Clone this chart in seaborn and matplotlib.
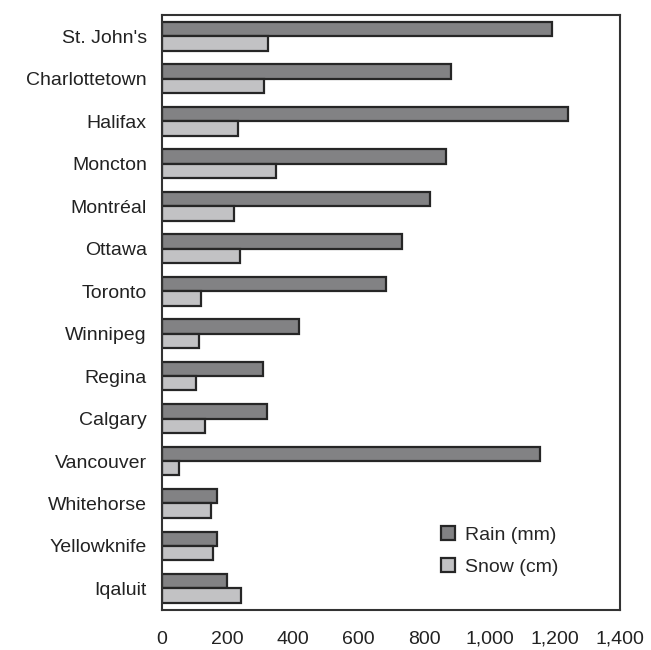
import pandas as pd
import matplotlib.pyplot as plt
import seaborn as sns

# data
cities = ["St. John's", 'Charlottetown', 'Halifax', 'Moncton', 'Montréal', 'Ottawa',
          'Toronto', 'Winnipeg', 'Regina', 'Calgary', 'Vancouver', 'Whitehorse',
          'Yellowknife', 'Iqaluit']
rain = [1192, 881, 1239, 868, 818, 734, 685, 417, 307, 319, 1154, 167, 167, 198]
snow = [325, 312, 233, 349, 221, 239, 118, 112, 105, 130, 51, 149, 155, 241]
series = ['Rain (mm)', 'Snow (cm)']
xticks = [0, 200, 400, 600, 800, 1000, 1200, 1400]

df = pd.DataFrame({'city': cities * 2,
                   'value': rain + snow,
                   'series': [series[0]] * len(cities) + [series[1]] * len(cities)})

sns.set_style('white')
plt.rcParams['font.family'] = ['Liberation Sans', 'DejaVu Sans']

fig, ax = plt.subplots(figsize=(6.51, 6.5), dpi=100)
fig.subplots_adjust(left=0.249, right=0.953, top=0.977, bottom=0.062)

sns.barplot(data=df, y='city', x='value', hue='series', hue_order=series,
            order=cities, orient='h', width=0.68,
            palette=['#828284', '#c2c2c4'], edgecolor='#262626', linewidth=1.6,
            saturation=1, ax=ax)

ax.set_xlim(0, 1400)
ax.set_ylim(13.5, -0.5)
ax.set_xticks(xticks)
ax.set_xticklabels([f'{v:,}' for v in xticks])
ax.set_xlabel('')
ax.set_ylabel('')
ax.tick_params(axis='x', direction='in', length=5, width=1.2, color='#333333',
               pad=15, labelsize=14, labelcolor='#222222')
ax.tick_params(axis='y', length=0, pad=11, labelsize=14, labelcolor='#222222')
for s in ax.spines.values():
    s.set_visible(True)
    s.set_color('#333333')
    s.set_linewidth(1.5)

ax.legend(loc='lower left', bbox_to_anchor=(0.57, 0.027), frameon=False,
          fontsize=14, handlelength=0.75, handleheight=0.75, handletextpad=0.5,
          labelspacing=0.75)

plt.savefig('out.png')
